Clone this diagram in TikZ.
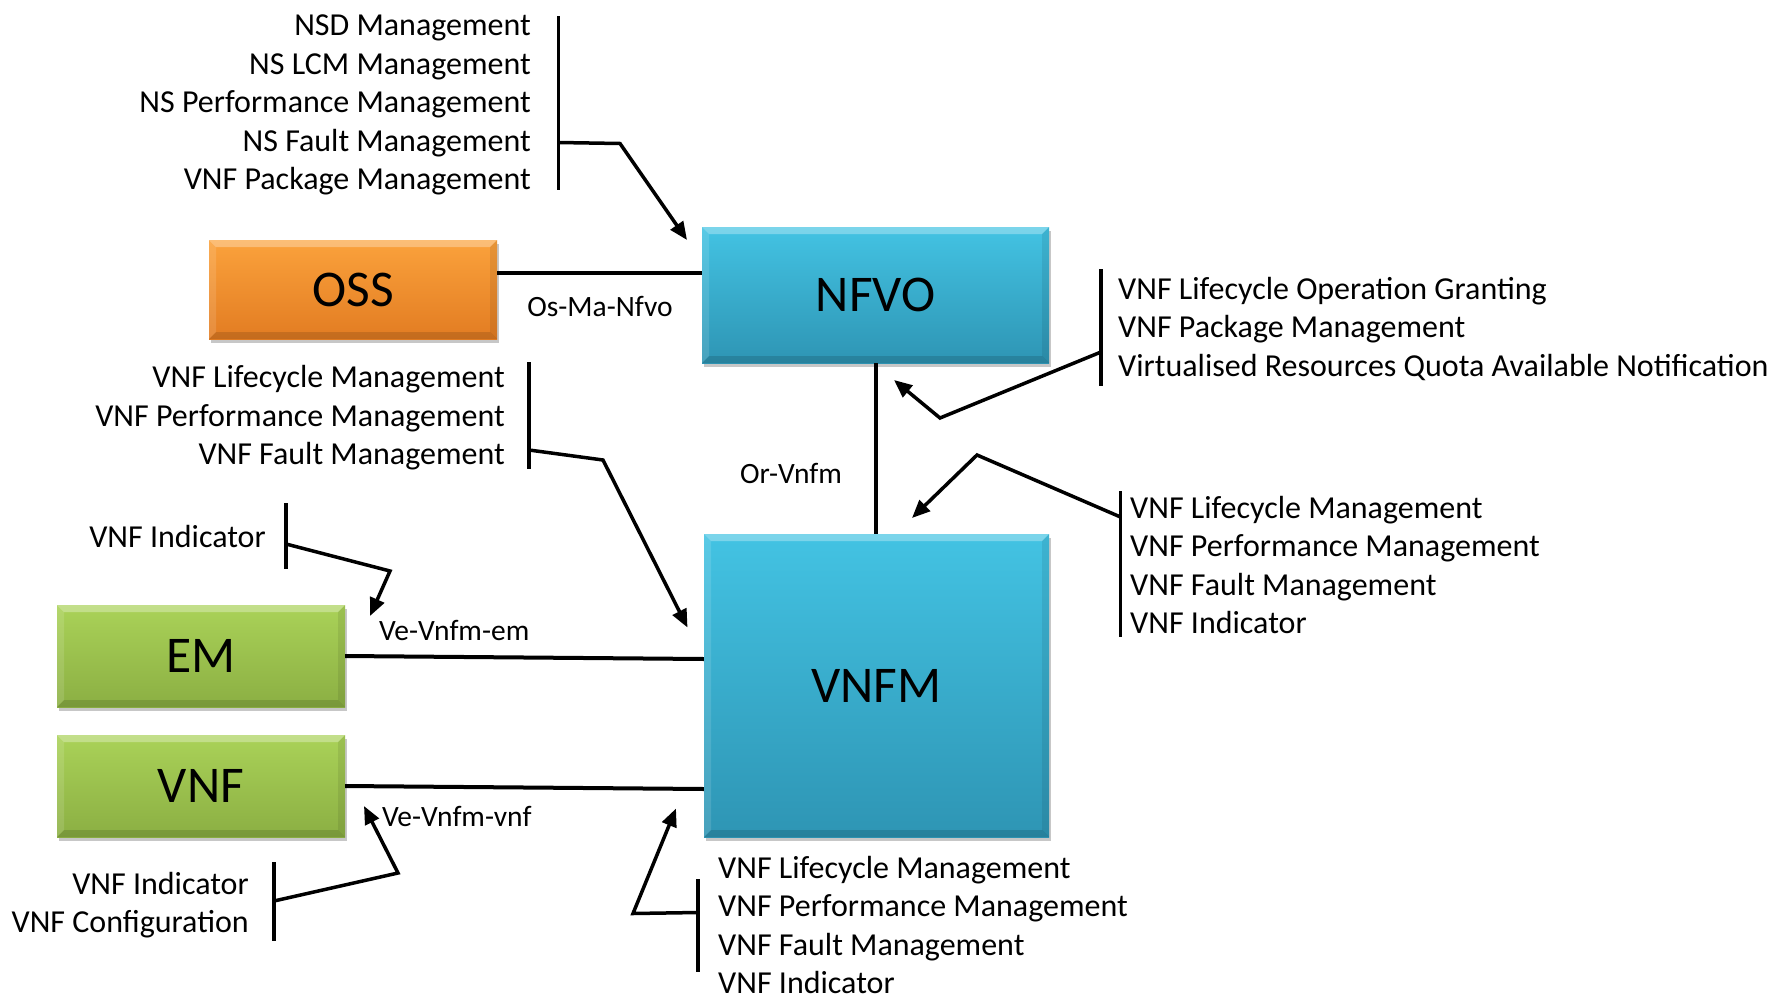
\documentclass[tikz,border=0pt]{standalone}
\usepackage{fontspec}
\setmainfont{Carlito}
\usetikzlibrary{arrows.meta,shadows}
\definecolor{orTop}{HTML}{FBA23C}
\definecolor{orBot}{HTML}{E27C22}
\definecolor{cyTop}{HTML}{43C3E3}
\definecolor{cyBot}{HTML}{2E95B4}
\definecolor{grTop}{HTML}{AAD258}
\definecolor{grBot}{HTML}{8BAF43}
\tikzset{
  x=1pt,y=-1pt,
  bevel/.style={path picture={
    \fill[white,opacity=0.3] (path picture bounding box.north west) -- (path picture bounding box.north east) -- ([xshift=-7pt,yshift=-7pt]path picture bounding box.north east) -- ([xshift=7pt,yshift=-7pt]path picture bounding box.north west) -- cycle;
    \fill[white,opacity=0.12] (path picture bounding box.north west) -- ([xshift=7pt,yshift=-7pt]path picture bounding box.north west) -- ([xshift=7pt,yshift=7pt]path picture bounding box.south west) -- (path picture bounding box.south west) -- cycle;
    \fill[black,opacity=0.13] (path picture bounding box.south west) -- (path picture bounding box.south east) -- ([xshift=-7pt,yshift=7pt]path picture bounding box.south east) -- ([xshift=7pt,yshift=7pt]path picture bounding box.south west) -- cycle;
    \fill[black,opacity=0.08] (path picture bounding box.north east) -- ([xshift=-7pt,yshift=-7pt]path picture bounding box.north east) -- ([xshift=-7pt,yshift=7pt]path picture bounding box.south east) -- (path picture bounding box.south east) -- cycle;
  }},
  box/.style={inner sep=0pt, bevel, font=\fontsize{51.5}{60}\selectfont,
    drop shadow={shadow xshift=2pt, shadow yshift=-4pt, opacity=0.22, fill=black}},
  orangebox/.style={box, top color=orTop, bottom color=orBot},
  cyanbox/.style={box, top color=cyTop, bottom color=cyBot},
  greenbox/.style={box, top color=grTop, bottom color=grBot},
  listtext/.style={inner sep=0pt, font=\fontsize{32}{38.4}\selectfont},
  iflabel/.style={inner sep=0pt, font=\fontsize{29.5}{34}\selectfont},
  link/.style={line width=4pt},
  bar/.style={line width=3.5pt},
  pointer/.style={line width=3.5pt, line join=miter, -{Triangle[length=18pt,width=15pt]}},
}
\begin{document}
\begin{tikzpicture}
\useasboundingbox (0,0) rectangle (1773,996);

% boxes
\node[orangebox, minimum width=288pt, minimum height=99pt] (oss) at (353,289.5) {OSS};
\node[cyanbox, minimum width=347pt, minimum height=136pt] (nfvo) at (875.5,295) {NFVO};
\node[cyanbox, minimum width=345pt, minimum height=303pt] (vnfm) at (876.5,685.5) {VNFM};
\node[greenbox, minimum width=288pt, minimum height=102pt] (em) at (201,656) {EM};
\node[greenbox, minimum width=288pt, minimum height=102pt] (vnf) at (201,786) {VNF};

% interfaces
\draw[link] ([yshift=17pt]oss.east) -- ([yshift=17pt]oss.east -| nfvo.west);
\draw[link] (nfvo.south) -- (nfvo.south |- vnfm.north);
\draw[link] (em.east) -- ([yshift=26.5pt]vnfm.west);
\draw[link] (vnf.east) -- ([yshift=-103.5pt]vnfm.west);

\node[iflabel] (lOsMa) at (600,306) {Os-Ma-Nfvo};
\node[iflabel] (lOrVnfm) at (791,473) {Or-Vnfm};
\node[iflabel, anchor=west] (lVeEm) at (379,630) {Ve-Vnfm-em};
\node[iflabel, anchor=west] (lVeVnf) at (382,816) {Ve-Vnfm-vnf};

% top list -> NFVO
\node[listtext, align=right, anchor=east] (tl) at (531,105) {NSD Management\\NS LCM Management\\NS Performance Management\\NS Fault Management\\VNF Package Management};
\coordinate (tlA) at (558.5,16); \coordinate (tlB) at (558.5,190);
\draw[bar] (tlA) -- (tlB);
\coordinate (tl1) at (558.5,142.5); \coordinate (tl2) at (620,143.5); \coordinate (tl3) at (687,240);
\draw[pointer] (tl1) -- (tl2) -- (tl3);

% NFVO right list
\node[listtext, align=left, anchor=west] (nr) at (1118,329) {VNF Lifecycle Operation Granting\\VNF Package Management\\Virtualised Resources Quota Available Notification};
\coordinate (nrA) at (1101,269); \coordinate (nrB) at (1101,386);
\draw[bar] (nrA) -- (nrB);
\coordinate (nr1) at (1101,352); \coordinate (nr2) at (940,418); \coordinate (nr3) at (894,380);
\draw[pointer] (nr1) -- (nr2) -- (nr3);

% VNFM right list
\node[listtext, align=left, anchor=west] (vr) at (1130,565) {VNF Lifecycle Management\\VNF Performance Management\\VNF Fault Management\\VNF Indicator};
\coordinate (vrA) at (1120.5,491); \coordinate (vrB) at (1120.5,637);
\draw[bar] (vrA) -- (vrB);
\coordinate (vr1) at (1120.5,517); \coordinate (vr2) at (977,455); \coordinate (vr3) at (912,518);
\draw[pointer] (vr1) -- (vr2) -- (vr3);

% middle-left list -> VNFM
\node[listtext, align=right, anchor=east] (ml) at (505,418) {VNF Lifecycle Management\\VNF Performance Management\\VNF Fault Management};
\coordinate (mlA) at (529,362); \coordinate (mlB) at (529,469);
\draw[bar] (mlA) -- (mlB);
\coordinate (ml1) at (529,450); \coordinate (ml2) at (603,460); \coordinate (ml3) at (687.5,627.5);
\draw[pointer] (ml1) -- (ml2) -- (ml3);

% VNF Indicator -> EM
\node[listtext, anchor=east] (ei) at (266,537) {VNF Indicator};
\coordinate (eiA) at (286,503); \coordinate (eiB) at (286,569);
\draw[bar] (eiA) -- (eiB);
\coordinate (ei1) at (286,544); \coordinate (ei2) at (390,571); \coordinate (ei3) at (370,616);
\draw[pointer] (ei1) -- (ei2) -- (ei3);

% below VNF list
\node[listtext, align=right, anchor=east] (bv) at (249,905) {VNF Indicator\\VNF Configuration};
\coordinate (bvA) at (274,862); \coordinate (bvB) at (274,941);
\draw[bar] (bvA) -- (bvB);
\coordinate (bv1) at (274,901); \coordinate (bv2) at (398,873); \coordinate (bv3) at (364,806);
\draw[pointer] (bv1) -- (bv2) -- (bv3);

% below VNFM list
\node[listtext, align=left, anchor=west] (bm) at (718,925) {VNF Lifecycle Management\\VNF Performance Management\\VNF Fault Management\\VNF Indicator};
\coordinate (bmA) at (698,879); \coordinate (bmB) at (698,972);
\draw[bar] (bmA) -- (bmB);
\coordinate (bm1) at (698,912.5); \coordinate (bm2) at (633,913.5); \coordinate (bm3) at (676,808.5);
\draw[pointer] (bm1) -- (bm2) -- (bm3);
\end{tikzpicture}
\end{document}
